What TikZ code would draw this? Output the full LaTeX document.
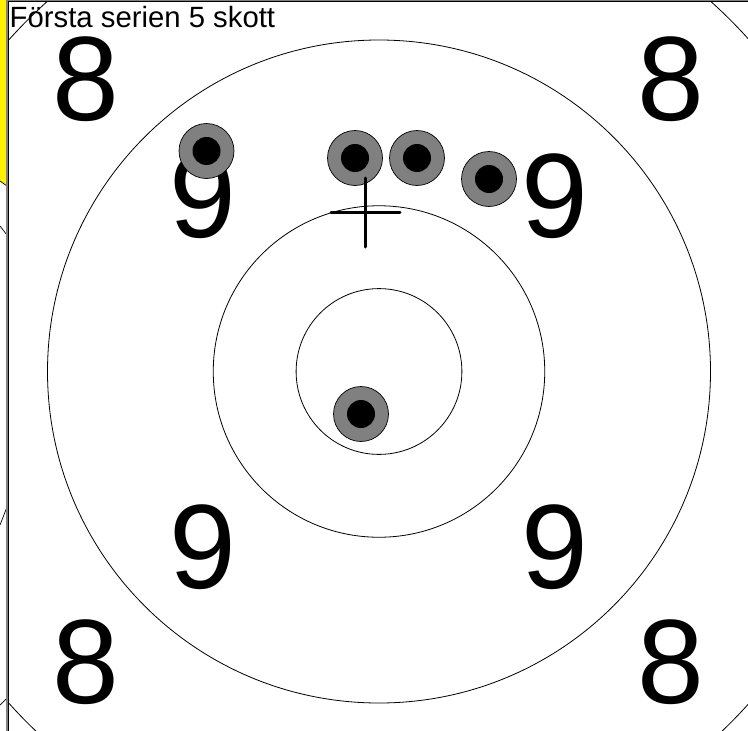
\documentclass[tikz,border=0pt]{standalone}
\usepackage{fontspec}
\setmainfont{Liberation Sans}
\begin{document}
\begin{tikzpicture}[x=1pt,y=-1pt,
  ring/.style={draw=black,line width=0.8pt},
  shot/.style={circle,draw=black,line width=0.7pt,fill=gray,minimum size=55pt,inner sep=0pt},
  core/.style={circle,fill=black,minimum size=28pt,inner sep=0pt},
  num/.style={font=\fontsize{120}{120}\selectfont,inner sep=0pt,anchor=center},
  frameline/.style={line width=1pt,draw=black}]
\useasboundingbox (0,0) rectangle (748,731);
\fill[white] (0,0) rectangle (748,731);
% left strip (neighbouring target)
\fill[yellow] (0,0) -- (7,0) -- (7,186) -- (0,181) -- cycle;
\draw[line width=0.7pt] (0,181) -- (7,186);
\draw[line width=0.7pt] (0,226) -- (7,235);
\draw[line width=0.7pt] (0,525) -- (7,507);
\draw[line width=0.7pt] (0,705) -- (7,698);
% target rings
\coordinate (c) at (379,371.5);
\begin{scope}
\clip (8.5,0) rectangle (748,731);
\draw[ring] (c) circle[radius=497];
\end{scope}
\draw[ring] (c) circle[radius=331.5];
\draw[ring] (c) circle[radius=165.75];
\draw[ring] (c) circle[radius=82.9];
% numbers
\node[num] (n8a) at (86,79.5) {8};
\node[num] (n8b) at (671,79.5) {8};
\node[num] (n8c) at (86,662) {8};
\node[num] (n8d) at (671,662) {8};
\node[num] (n9a) at (203,196) {9};
\node[num] (n9b) at (555,196) {9};
\node[num] (n9c) at (203,547) {9};
\node[num] (n9d) at (555,547) {9};
% shots
\foreach \n/\p in {s1/{(206.5,151)}, s2/{(355,158)}, s3/{(417,158)}, s4/{(489,179)}, s5/{(361,414)}}{
  \node[shot] (\n) at \p {};
  \node[core] at (\n.center) {};
}
% aiming cross
\coordinate (k) at (365.5,212.5);
\draw[line width=3pt,line cap=round] ([yshift=-34.5pt]k) -- ([yshift=34.5pt]k);
\draw[line width=3pt,line cap=round] ([xshift=-34.5pt]k) -- ([xshift=34.5pt]k);
% frame lines
\draw[line width=1.2pt,draw=gray] (7,0) -- (7,731);
\draw[line width=1pt] (8.3,0) -- (8.3,731);
\draw[line width=1.2pt,draw=gray] (8,0.7) -- (748,0.7);
\draw[line width=0.8pt] (8,1.7) -- (748,1.7);
% title
\node[font=\fontsize{29.3}{31}\selectfont,anchor=base west,inner sep=0pt] (title) at (9.5,27.5) {Första serien 5 skott};
\end{tikzpicture}
\end{document}
